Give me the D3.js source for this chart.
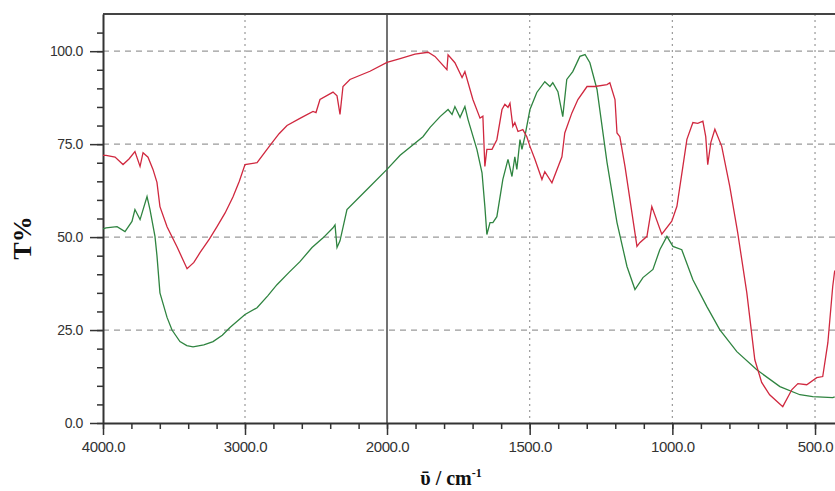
<!DOCTYPE html>
<html>
<head>
<meta charset="utf-8">
<script src="https://cdn.jsdelivr.net/npm/d3@7"></script>
<style>
  body { margin: 0; background: #fff; }
  svg { display: block; }
</style>
</head>
<body>
<div id="container"></div>
<script>
/* CONSTANTS AND GLOBALS */
const width = 835,
  height = 491,
  margin = { top: 14, bottom: 68, left: 103, right: 0 };

// x axis: 4000-2000 compressed, 2000-430 expanded (spectrometer style)
const xDomain = [4000, 2000, 430];
const majorX = [4000, 3000, 2000, 1500, 1000, 500];
const minorX = d3.range(4000, 2000, -200).concat(d3.range(2000, 420, -100));
const gridX = [3000, 1500, 1000, 500];

const yMajor = [0, 25, 50, 75, 100];
const yMinor = d3.range(0, 110, 5);
const gridY = [25, 50, 75, 100];

// [wavenumber, T%]
const redSeries = [
  [4000, 72], [3979, 72], [3915, 71.5], [3859, 69.5], [3817, 71], [3775, 73],
  [3739, 69], [3718, 72.7], [3683, 71.5], [3648, 68.2], [3620, 64.7], [3599, 58.2],
  [3549, 52.8], [3479, 47.4], [3408, 41.5], [3360, 43.2], [3317, 45.8], [3250, 49.5],
  [3197, 52.8], [3140, 56.5], [3085, 60.8], [3040, 65], [3000, 69.5], [2915, 70],
  [2845, 73.6], [2817, 75], [2760, 77.8], [2704, 80], [2610, 82], [2521, 83.8],
  [2500, 83.5], [2472, 87], [2380, 89], [2352, 88], [2331, 83], [2310, 90.5],
  [2261, 92.4], [2120, 94.6], [2000, 97], [1954, 98], [1902, 99.2], [1856, 99.7],
  [1832, 98.6], [1790, 95], [1786, 99], [1762, 96.9], [1737, 92.9], [1727, 94.5],
  [1699, 87], [1674, 82], [1664, 82.5], [1657, 69], [1650, 73.6], [1632, 73.6],
  [1615, 76.2], [1597, 84.3], [1587, 85.7], [1576, 84.9], [1569, 86], [1559, 79.8],
  [1552, 80.8], [1541, 78.4], [1524, 78.9], [1510, 77], [1499, 74.4], [1482, 71],
  [1457, 65.5], [1447, 67.6], [1422, 64.6], [1387, 71.6], [1377, 78], [1352, 83.4],
  [1331, 87], [1299, 90.5], [1271, 90.5], [1229, 91], [1219, 91.5], [1201, 87],
  [1194, 78], [1184, 77], [1166, 69], [1124, 47.5], [1114, 48.5], [1089, 50.2],
  [1072, 58.2], [1037, 50.8], [1002, 54.3], [984, 58.3], [963, 69], [949, 76.3],
  [928, 80.8], [911, 80.6], [893, 81.2], [883, 77], [876, 69.5], [865, 75.5],
  [851, 79], [827, 74.4], [799, 63.7], [771, 51.2], [739, 35], [711, 17],
  [687, 10.9], [659, 7.6], [613, 4.4], [581, 9], [560, 10.6], [529, 10.3],
  [494, 12.2], [473, 12.5], [455, 21.6], [438, 36.7], [431, 41]
];

const greenSeries = [
  [4000, 52.2], [3979, 52.5], [3901, 52.8], [3845, 51.5], [3796, 54.2], [3775, 57.4],
  [3739, 54.7], [3690, 60.9], [3669, 57.4], [3634, 50.2], [3620, 45], [3599, 35],
  [3549, 28.4], [3514, 25], [3458, 21.9], [3410, 20.8], [3366, 20.5], [3290, 21],
  [3225, 21.9], [3160, 23.6], [3106, 25.7], [3000, 29.2], [2915, 31], [2840, 34.2],
  [2775, 37.2], [2690, 40.5], [2613, 43.4], [2528, 47.2], [2450, 49.8], [2380, 52.5],
  [2366, 53.3], [2352, 47.2], [2331, 49], [2282, 57.4], [2141, 62.8], [2000, 68.2],
  [1954, 72], [1874, 77], [1849, 79.5], [1814, 82.4], [1786, 84.3], [1772, 83],
  [1762, 85.1], [1744, 82.2], [1727, 85.1], [1716, 81.6], [1685, 73.6], [1667, 67.3],
  [1657, 58.2], [1650, 50.7], [1639, 53.9], [1629, 53.9], [1615, 55.5], [1594, 65.5],
  [1576, 70.9], [1562, 66.3], [1552, 71.6], [1545, 68.2], [1534, 76.2], [1527, 73.6],
  [1517, 77], [1499, 84.3], [1475, 88.9], [1447, 91.8], [1429, 90.5], [1419, 91.5],
  [1401, 89.1], [1384, 82.4], [1370, 92.4], [1349, 94.5], [1324, 98.6], [1306, 99.1],
  [1289, 96.9], [1264, 89.7], [1229, 70.1], [1194, 53.9], [1159, 42.1], [1131, 35.9],
  [1103, 39.1], [1068, 41.3], [1044, 46.6], [1019, 50.2], [998, 47.5], [967, 46.6],
  [928, 38.5], [879, 31.3], [834, 25.1], [774, 19.2], [704, 14.3], [623, 9.8],
  [553, 7.6], [508, 7.1], [438, 6.8], [431, 7]
];

/* SCALES */
const xScale = d3.scaleLinear()
  .domain(xDomain)
  .range([margin.left, 387, width - margin.right]);

const yScale = d3.scaleLinear()
  .domain([0, 110])
  .range([height - margin.bottom, margin.top]);

const svg = d3.select("#container")
  .append("svg")
  .attr("width", width)
  .attr("height", height);

svg.append("defs").append("clipPath")
  .attr("id", "plot-clip")
  .append("rect")
  .attr("x", margin.left)
  .attr("y", margin.top)
  .attr("width", width - margin.left - margin.right)
  .attr("height", height - margin.top - margin.bottom);

// GRID
svg.append("g")
  .selectAll("line")
  .data(gridY)
  .join("line")
  .attr("x1", margin.left)
  .attr("x2", width)
  .attr("y1", d => yScale(d))
  .attr("y2", d => yScale(d))
  .attr("stroke", "#9a9a9a")
  .attr("stroke-width", 1.2)
  .attr("stroke-dasharray", "6,5");

svg.append("g")
  .selectAll("line")
  .data(gridX)
  .join("line")
  .attr("x1", d => xScale(d))
  .attr("x2", d => xScale(d))
  .attr("y1", margin.top)
  .attr("y2", height - margin.bottom)
  .attr("stroke", "#9a9a9a")
  .attr("stroke-width", 1.2)
  .attr("stroke-dasharray", "2,4");

// solid divider at 2000 and top frame
svg.append("line")
  .attr("x1", xScale(2000)).attr("x2", xScale(2000))
  .attr("y1", margin.top).attr("y2", height - margin.bottom)
  .attr("stroke", "#444").attr("stroke-width", 1.5);

svg.append("line")
  .attr("x1", margin.left).attr("x2", width)
  .attr("y1", margin.top).attr("y2", margin.top)
  .attr("stroke", "#444").attr("stroke-width", 2);

// AXES
const axisFont = "'Liberation Sans', Arial, sans-serif";

svg.append("g")
  .attr("transform", `translate(0, ${height - margin.bottom})`)
  .call(d3.axisBottom(xScale).tickValues(minorX).tickSize(6).tickFormat(""))
  .call(g => g.select(".domain").remove())
  .selectAll("line").attr("stroke", "#333").attr("stroke-width", 1.5);

svg.append("g")
  .attr("class", "xAxis")
  .attr("transform", `translate(0, ${height - margin.bottom})`)
  .call(d3.axisBottom(xScale).tickValues(majorX).tickSize(12).tickSizeOuter(0)
    .tickPadding(6).tickFormat(d3.format(".1f")))
  .call(g => g.select(".domain").attr("stroke", "#333").attr("stroke-width", 2))
  .call(g => g.selectAll("line").attr("stroke", "#333").attr("stroke-width", 1.5))
  .call(g => g.selectAll("text").attr("fill", "#333")
    .style("font-family", axisFont).style("font-size", "15px").attr("letter-spacing", "-0.4"));

svg.append("g")
  .attr("transform", `translate(${margin.left}, 0)`)
  .call(d3.axisLeft(yScale).tickValues(yMinor).tickSize(6).tickFormat(""))
  .call(g => g.select(".domain").remove())
  .selectAll("line").attr("stroke", "#333").attr("stroke-width", 1.5);

svg.append("g")
  .attr("class", "yAxis")
  .attr("transform", `translate(${margin.left}, 0)`)
  .call(d3.axisLeft(yScale).tickValues(yMajor).tickSize(13).tickSizeOuter(0)
    .tickPadding(7).tickFormat(d3.format(".1f")))
  .call(g => g.select(".domain").attr("stroke", "#333").attr("stroke-width", 2))
  .call(g => g.selectAll("line").attr("stroke", "#333").attr("stroke-width", 1.5))
  .call(g => g.selectAll("text").attr("fill", "#333")
    .style("font-family", axisFont).style("font-size", "14px").attr("letter-spacing", "-0.4"));

// LINES
const lineFunction = d3.line()
  .x(d => xScale(d[0]))
  .y(d => yScale(d[1]));

const plot = svg.append("g").attr("clip-path", "url(#plot-clip)");

plot.append("path")
  .datum(greenSeries)
  .attr("fill", "none")
  .attr("stroke", "#2f8440")
  .attr("stroke-width", 1.3)
  .attr("d", lineFunction);

plot.append("path")
  .datum(redSeries)
  .attr("fill", "none")
  .attr("stroke", "#d0283f")
  .attr("stroke-width", 1.3)
  .attr("d", lineFunction);

// AXIS TITLES
svg.append("text")
  .attr("transform", "translate(31, 238) rotate(-90)")
  .attr("text-anchor", "middle")
  .style("font-family", "'Liberation Serif', 'Times New Roman', serif")
  .style("font-weight", "bold")
  .style("font-size", "26px")
  .attr("fill", "#111")
  .text("T%");

const xTitle = svg.append("text")
  .attr("x", 451)
  .attr("y", 485)
  .attr("text-anchor", "middle")
  .style("font-family", "'Liberation Serif', 'DejaVu Serif', serif")
  .style("font-weight", "bold")
  .style("font-size", "20px")
  .attr("fill", "#111");
xTitle.append("tspan").text("\u1FE1 / cm");
xTitle.append("tspan").attr("dy", -8).style("font-size", "12px").text("-1");
</script>
</body>
</html>
